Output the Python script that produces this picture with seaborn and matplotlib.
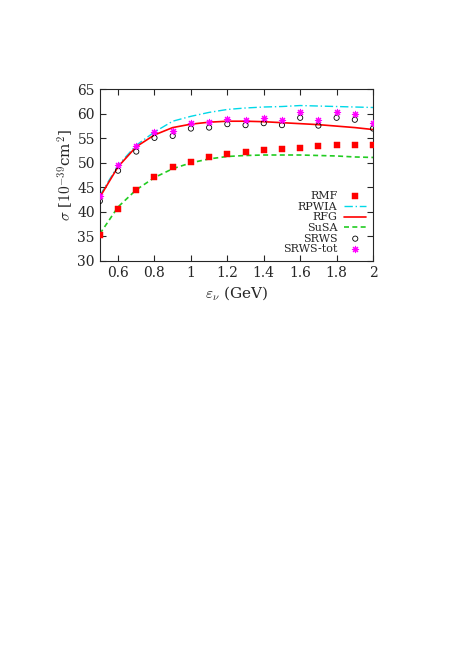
import matplotlib
matplotlib.use("Agg")
import matplotlib.pyplot as plt
import seaborn as sns
import numpy as np

sns.set_style("ticks")
plt.rcParams['font.family'] = ['DejaVu Serif']
plt.rcParams['mathtext.fontset'] = 'cm'

x = [0.5,0.6,0.7,0.8,0.9,1.0,1.1,1.2,1.3,1.4,1.5,1.6,1.7,1.8,1.9,2.0]
rmf = [35.2,40.5,44.5,47.2,49.2,50.2,51.1,51.8,52.3,52.6,52.9,53.0,53.4,53.6,53.6,53.6]
srws = [42.2,48.4,52.3,55.1,55.5,57.0,57.2,57.9,57.7,58.1,57.7,59.2,57.6,59.2,58.8,57.0]
srws_tot = [43.3,49.5,53.5,56.2,56.6,58.1,58.3,59.0,58.8,59.2,58.8,60.3,58.7,60.3,59.9,58.1]
rfg = [43.0,49.2,53.3,55.7,57.2,57.9,58.3,58.5,58.5,58.4,58.2,58.0,57.8,57.5,57.2,56.8]
rpwia = [43.3,49.5,53.6,56.3,58.5,59.5,60.3,60.9,61.2,61.4,61.5,61.7,61.6,61.5,61.4,61.3]
susa = [35.5,41.0,44.5,47.0,48.8,50.0,50.8,51.3,51.5,51.6,51.6,51.6,51.5,51.4,51.2,51.1]

fig = plt.figure(figsize=(4.71, 6.67), dpi=100)
ax = fig.add_axes([0.212, 0.609, 0.58, 0.257])

sns.scatterplot(x=x, y=rmf, ax=ax, marker='s', color='red', s=16, edgecolor='red', label='RMF', zorder=3)
sns.lineplot(x=x, y=rpwia, ax=ax, color='#00d8e8', lw=1, label='RPWIA')
ax.lines[-1].set_dashes([6,2,1,2])
sns.lineplot(x=x, y=rfg, ax=ax, color='red', lw=1.2, label='RFG')
sns.lineplot(x=x, y=susa, ax=ax, color='#22cc22', lw=1.2, label='SuSA')
ax.lines[-1].set_dashes([3,2])
sns.scatterplot(x=x, y=srws, ax=ax, marker='o', facecolor='none', edgecolor='black', s=14, linewidth=0.6, label='SRWS', zorder=3)
sns.scatterplot(x=x, y=srws_tot, ax=ax, marker=(8,2,0), color='#ff00ff', s=20, linewidth=0.8, label='SRWS-tot', zorder=3)

ax.set_xlim(0.5, 2)
ax.set_ylim(30, 65)
ax.set_xticks([0.6,0.8,1,1.2,1.4,1.6,1.8,2])
ax.set_xticklabels(['0.6','0.8','1','1.2','1.4','1.6','1.8','2'])
ax.set_yticks([30,35,40,45,50,55,60,65])
ax.tick_params(direction='in', top=True, right=True, labelsize=10, length=4)
ax.set_xlabel(r'$\varepsilon_\nu$ (GeV)', fontsize=11)
ax.set_ylabel(r'$\sigma$ [$10^{-39}$cm$^2$]', fontsize=11, labelpad=2)
for s in ax.spines.values():
    s.set_linewidth(0.8)
ax.legend(loc='lower right', frameon=False, markerfirst=False, fontsize=8,
          handlelength=2.0, labelspacing=0.05, borderaxespad=0.2, handletextpad=0.6)
fig.savefig('out.png', dpi=100)
